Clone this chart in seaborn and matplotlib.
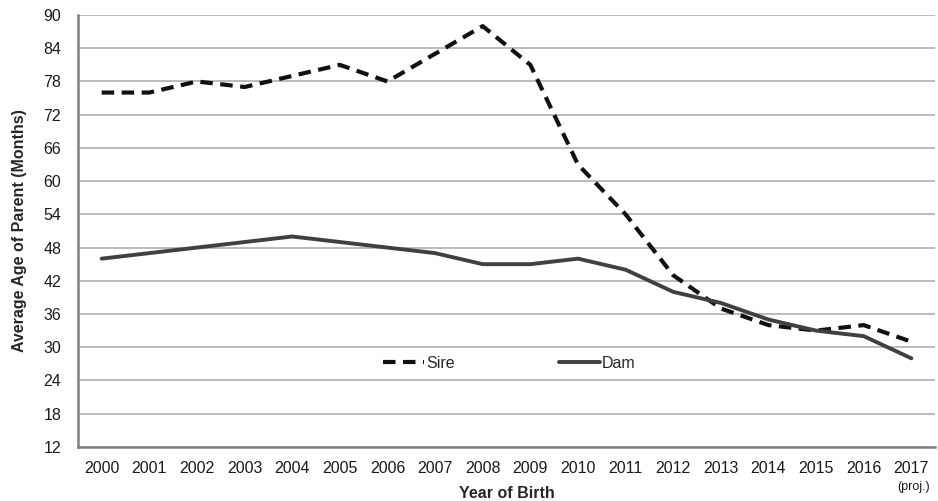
import pandas as pd
import numpy as np
import matplotlib.pyplot as plt
import seaborn as sns

# Data
years = ['2000', '2001', '2002', '2003', '2004', '2005', '2006', '2007', '2008',
         '2009', '2010', '2011', '2012', '2013', '2014', '2015', '2016', '2017']
sire = [76, 76, 78, 77, 79, 81, 78, 83, 88, 81, 63, 54, 43, 37, 34, 33, 34, 31]
dam = [46, 47, 48, 49, 50, 49, 48, 47, 45, 45, 46, 44, 40, 38, 35, 33, 32, 28]
y_ticks = list(range(12, 91, 6))

sns.set_style("white")
plt.rcParams['font.family'] = ['Liberation Sans', 'DejaVu Sans']

df = pd.DataFrame({'year': years, 'Sire': sire, 'Dam': dam})
df['pos'] = np.arange(len(years))

fig = plt.figure(figsize=(9.38, 5.01), dpi=100)
ax = fig.add_axes([0.083, 0.108, 0.914, 0.862])

sns.lineplot(data=df, x='pos', y='Sire', ax=ax, color='#111111', linewidth=3,
             linestyle=(0, (3.0, 1.8)), label='Sire')
sns.lineplot(data=df, x='pos', y='Dam', ax=ax, color='#404040', linewidth=2.8,
             label='Dam')

ax.set_xlim(-0.5, len(years) - 0.5)
ax.set_ylim(12, 90)
ax.set_yticks(y_ticks)
ax.yaxis.grid(True, color='#b5b5b5', linewidth=1.3)
ax.set_axisbelow(True)

ax.set_xticks(df['pos'])
ax.set_xticklabels(years)
ax.set_xticks(np.arange(-0.5, len(years), 1), minor=True)
ax.tick_params(axis='x', which='major', length=0, pad=10, labelsize=11.5, labelcolor='#1a1a1a')
ax.tick_params(axis='x', which='minor', length=4, width=1, color='#808080', direction='out')
ax.tick_params(axis='y', length=4, width=1, color='#808080', direction='out',
               labelsize=11.5, labelcolor='#1a1a1a', pad=8)

ax.text(len(years) - 0.95, -0.092, '(proj.)', transform=ax.get_xaxis_transform(),
        ha='center', va='center', fontsize=9, color='#1a1a1a')

for side in ['top', 'right']:
    ax.spines[side].set_visible(False)
ax.spines['left'].set_color('#808080')
ax.spines['left'].set_linewidth(1.8)
ax.spines['bottom'].set_color('#808080')
ax.spines['bottom'].set_linewidth(1.8)

ax.set_xlabel('Year of Birth', fontsize=11.5, fontweight='bold', labelpad=7)
ax.set_ylabel('Average Age of Parent (Months)', fontsize=11.5, fontweight='bold', labelpad=12)

ax.legend(ncol=2, frameon=False, loc='center', bbox_to_anchor=(0.503, 0.193),
          fontsize=11.5, handlelength=2.6, handletextpad=0.1, columnspacing=6.5)

plt.savefig('out.png', dpi=100)
